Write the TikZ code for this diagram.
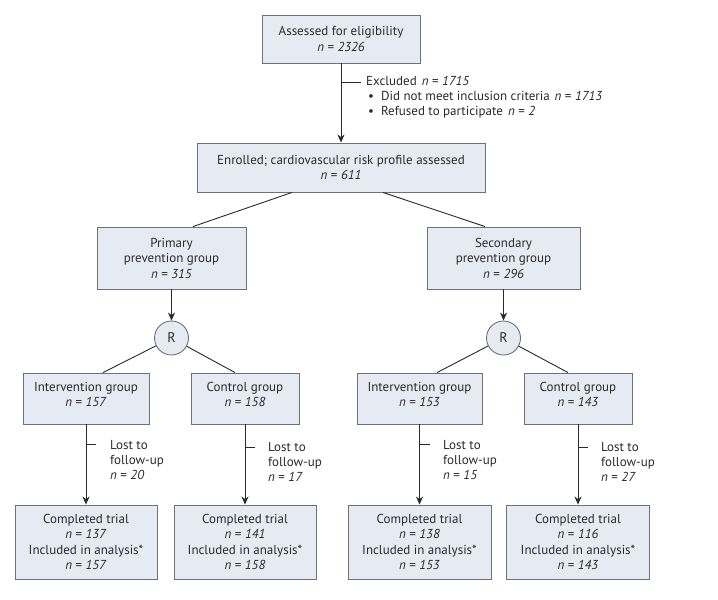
\documentclass[tikz,border=0pt]{standalone}
\usepackage{fontspec}
\setmainfont{PT Sans}
\usetikzlibrary{arrows.meta,calc}
\definecolor{boxfill}{HTML}{E6EBF3}
\definecolor{boxline}{HTML}{707070}
\definecolor{txt}{HTML}{2A2A2A}
\newcommand{\nval}[1]{\textit{n} = \textit{#1}}
\begin{document}
\begin{tikzpicture}[x=1pt,y=-1pt,
  box/.style={draw=boxline, fill=boxfill, line width=0.9pt, inner sep=0pt, align=center,
    font=\fontsize{13}{15.5}\selectfont, text=txt},
  rnode/.style={circle, draw=boxline, fill=boxfill, line width=0.9pt, inner sep=0pt,
    minimum size=34pt, font=\fontsize{14}{15}\selectfont, text=txt},
  conn/.style={draw=txt, line width=0.9pt},
  arr/.style={conn, -{Stealth[length=8pt,width=7pt,inset=2.5pt]}},
  lbl/.style={anchor=north west, inner sep=0pt, align=left, text=txt,
    font=\fontsize{13}{15}\selectfont}]
\useasboundingbox (0,0) rectangle (718,600);
\fill[white] (0,0) rectangle (718,600);

\node[box, minimum width=158pt, minimum height=48pt] (assess) at (341,39) {Assessed for eligibility\\\nval{2326}};
\node[box, minimum width=288pt, minimum height=49pt] (enrol) at (341,167.5) {Enrolled; cardiovascular risk profile assessed\\\nval{611}};
\node[box, minimum width=149pt, minimum height=62pt] (prim) at (171.5,258) {Primary\\prevention group\\\nval{315}};
\node[box, minimum width=153pt, minimum height=62pt] (sec) at (503.5,258) {Secondary\\prevention group\\\nval{296}};
\node[rnode] (r1) at (171.5,338) {R};
\node[rnode] (r2) at (503.5,338) {R};
\node[box, minimum width=126pt, minimum height=51pt, text depth=8pt] (int1) at (86,398.5) {Intervention group\\\nval{157}};
\node[box, minimum width=108pt, minimum height=51pt, text depth=8pt] (ctl1) at (245,398.5) {Control group\\\nval{158}};
\node[box, minimum width=125pt, minimum height=51pt, text depth=8pt] (int2) at (419.5,398.5) {Intervention group\\\nval{153}};
\node[box, minimum width=108pt, minimum height=51pt, text depth=8pt] (ctl2) at (578,398.5) {Control group\\\nval{143}};
\node[box, minimum width=142pt, minimum height=74pt] (comp1) at (86,542) {Completed trial\\\nval{137}\\Included in analysis*\\\nval{157}};
\node[box, minimum width=142pt, minimum height=74pt] (comp2) at (245,542) {Completed trial\\\nval{141}\\Included in analysis*\\\nval{158}};
\node[box, minimum width=143pt, minimum height=74pt] (comp3) at (419.5,542) {Completed trial\\\nval{138}\\Included in analysis*\\\nval{153}};
\node[box, minimum width=143pt, minimum height=74pt] (comp4) at (578,542) {Completed trial\\\nval{116}\\Included in analysis*\\\nval{143}};

% main arrow and exclusion
\draw[arr] (assess.south) -- (enrol.north);
\coordinate (ex0) at (341,82);
\coordinate (ex1) at (361,82);
\draw[conn] (ex0) -- (ex1);
\node[lbl] (excl) at (366,76.5) {Excluded\hspace{5pt}\nval{1715}\\
  \hspace{2pt}\textbullet\hspace{7pt}Did not meet inclusion criteria\hspace{5pt}\nval{1713}\\
  \hspace{2pt}\textbullet\hspace{7pt}Refused to participate\hspace{5pt}\nval{2}};

% split into groups
\draw[conn] ([xshift=-49pt]enrol.south) -- ([xshift=21.5pt]prim.north);
\draw[conn] ([xshift=42pt]enrol.south) -- ([xshift=-18.5pt]sec.north);
\draw[arr] (prim.south) -- (r1.north);
\draw[arr] (sec.south) -- (r2.north);
\draw[conn] (r1) -- ([xshift=17pt]int1.north);
\draw[conn] (r1) -- ([xshift=-10pt]ctl1.north);
\draw[conn] (r2) -- ([xshift=17.5pt]int2.north);
\draw[conn] (r2) -- ([xshift=-10pt]ctl2.north);

% follow-up arrows
\draw[arr] (int1.south) -- (int1.south |- comp1.north);
\draw[arr] (ctl1.south) -- (ctl1.south |- comp2.north);
\draw[arr] (int2.south) -- (int2.south |- comp3.north);
\draw[arr] (ctl2.south) -- (ctl2.south |- comp4.north);

\coordinate (t1a) at (86,444);  \coordinate (t1b) at (96,444);
\coordinate (t2a) at (245,447); \coordinate (t2b) at (255,447);
\coordinate (t3a) at (419.5,444); \coordinate (t3b) at (429.5,444);
\coordinate (t4a) at (578,447); \coordinate (t4b) at (588,447);
\draw[conn] (t1a) -- (t1b);
\draw[conn] (t2a) -- (t2b);
\draw[conn] (t3a) -- (t3b);
\draw[conn] (t4a) -- (t4b);
\node[lbl] (l1) at (110,440.5) {Lost to\\follow-up\\\nval{20}};
\node[lbl] (l2) at (268,442.5) {Lost to\\follow-up\\\nval{17}};
\node[lbl] (l3) at (443,440.5) {Lost to\\follow-up\\\nval{15}};
\node[lbl] (l4) at (601,442.5) {Lost to\\follow-up\\\nval{27}};
\end{tikzpicture}
\end{document}
